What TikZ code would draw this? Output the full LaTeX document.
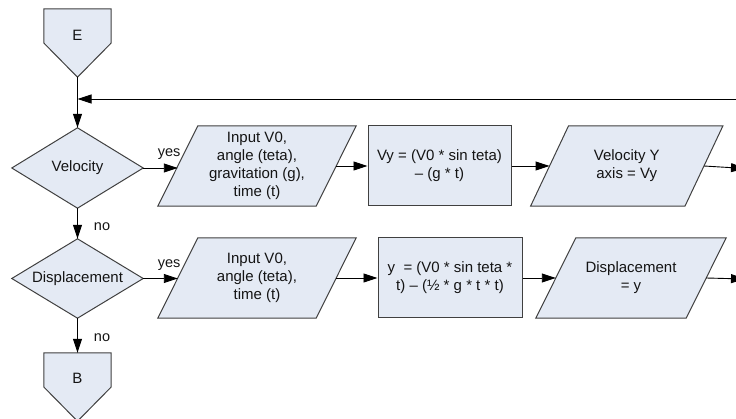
\documentclass[tikz,border=0pt]{standalone}
\usepackage{fontspec}
\setmainfont{Liberation Sans}
\usetikzlibrary{arrows.meta,backgrounds}
\definecolor{shapefill}{HTML}{E4EAF4}
\definecolor{shapeline}{HTML}{404040}
\definecolor{txt}{HTML}{141414}
\begin{document}
\begin{tikzpicture}[x=1pt,y=-1pt,
  every node/.style={font=\fontsize{15pt}{18pt}\selectfont, text=txt, align=center, inner sep=0pt},
  shp/.style={draw=shapeline, fill=shapefill, line width=1pt},
  holder/.style={minimum width=#1, minimum height=80pt},
  boxnode/.style={shp, minimum width=#1, minimum height=80pt},
  lbl/.style={font=\fontsize{14.5pt}{16pt}\selectfont},
  conn/.style={draw=black, line width=0.9pt, -{Triangle[length=14pt,width=9pt]}}
]
\useasboundingbox (0,0) rectangle (736,419);

% left column
\node[minimum width=67pt, minimum height=68pt] (E) at (77.5,43) {};
\node (Et) at (77.5,35) {E};
\node[minimum width=131pt, minimum height=80pt] (V) at (77.5,168) {Velocity};
\node[minimum width=131pt, minimum height=79pt] (D) at (77.5,278.5) {Displacement};
\node[minimum width=67pt, minimum height=68pt] (B) at (77.5,387) {};
\node (Bt) at (77.5,378) {B};

% row 1
\node[holder=158pt] (p1) at (257,166) {Input V0,\\angle (teta),\\gravitation (g),\\time (t)};
\node[boxnode=143pt] (b1) at (439.5,166) {Vy = (V0 * sin teta)\\– (g * t)};
\node[holder=154pt] (p2) at (626.75,166) {Velocity Y\\axis = Vy};

% row 2
\node[holder=158pt] (p3) at (257,278) {Input V0,\\angle (teta),\\time (t)};
\node[boxnode=144pt] (b2) at (450,278) {y~ = (V0 * sin teta *\\t) – (½ * g * t * t)};
\node[holder=150pt] (p4) at (631,278) {Displacement\\= y};

\begin{scope}[on background layer]
  \path[shp] (E.north west) -- (E.north east) -- (E.east) -- (E.south) -- (E.west) -- cycle;
  \path[shp] (B.north west) -- (B.north east) -- (B.east) -- (B.south) -- (B.west) -- cycle;
  \path[shp] (V.north) -- (V.east) -- (V.south) -- (V.west) -- cycle;
  \path[shp] (D.north) -- (D.east) -- (D.south) -- (D.west) -- cycle;
  \path[shp] ([xshift=20pt]p1.north west) -- ([xshift=20pt]p1.north east) -- ([xshift=-20pt]p1.south east) -- ([xshift=-20pt]p1.south west) -- cycle;
  \path[shp] ([xshift=19pt]p2.north west) -- ([xshift=19pt]p2.north east) -- ([xshift=-19pt]p2.south east) -- ([xshift=-19pt]p2.south west) -- cycle;
  \path[shp] ([xshift=20pt]p3.north west) -- ([xshift=20pt]p3.north east) -- ([xshift=-20pt]p3.south east) -- ([xshift=-20pt]p3.south west) -- cycle;
  \path[shp] ([xshift=20pt]p4.north west) -- ([xshift=20pt]p4.north east) -- ([xshift=-20pt]p4.south east) -- ([xshift=-20pt]p4.south west) -- cycle;
\end{scope}

% connectors
\coordinate (j) at (77.5,99);
\coordinate (fb) at (745,99);
\coordinate (o1) at (745,168.5);
\coordinate (o2) at (745,279);

\draw[conn] (E.south) -- (V.north);
\draw[conn] (fb) -- (j);
\draw[conn] (V.east) -- (V.east -| p1.west) node[lbl, pos=1, anchor=base east, xshift=3pt, yshift=11pt] (y1) {yes};
\draw[conn] (p1.east) -- (b1.west);
\draw[conn] (b1.east) -- (p2.west);
\draw[conn] (p2.east) -- (o1);
\draw[conn] (V.south) -- (D.north) node[lbl, pos=0, anchor=base west, xshift=16pt, yshift=-22pt] (n1) {no};
\draw[conn] (D.east) -- (D.east -| p3.west) node[lbl, pos=1, anchor=base east, xshift=3pt, yshift=11pt] (y2) {yes};
\draw[conn] (p3.east) -- (b2.west);
\draw[conn] (b2.east) -- (p4.west);
\draw[conn] (p4.east) -- (o2);
\draw[conn] (D.south) -- (B.north) node[lbl, pos=0, anchor=base west, xshift=16pt, yshift=-23pt] (n2) {no};
\end{tikzpicture}
\end{document}
